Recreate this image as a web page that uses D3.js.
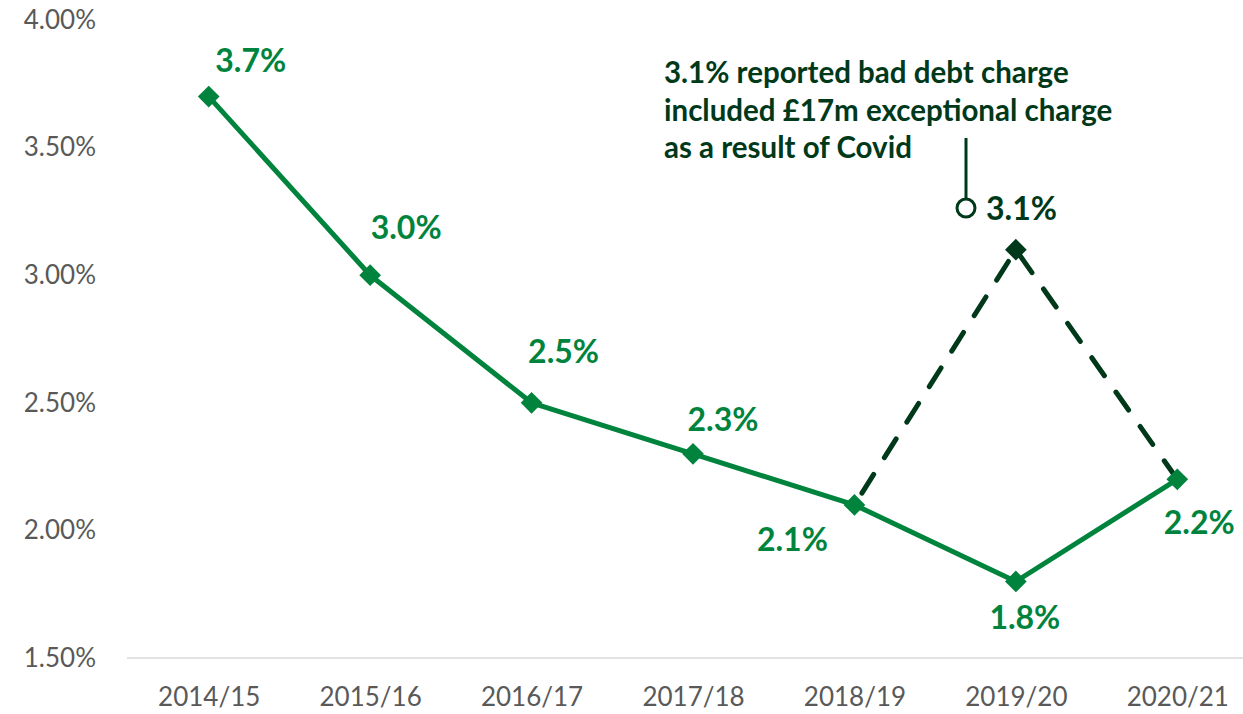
<!DOCTYPE html>
<html>
<head>
<meta charset="utf-8">
<script src="https://cdn.jsdelivr.net/npm/d3@7"></script>
<style>
  body { margin: 0; background: #fff; }
  svg { display: block; font-family: Lato, "Open Sans", sans-serif; }
</style>
</head>
<body>
<div id="chart"></div>
<script>
// data
var years = ["2014/15", "2015/16", "2016/17", "2017/18", "2018/19", "2019/20", "2020/21"];
var underlying = [3.7, 3.0, 2.5, 2.3, 2.1, 1.8, 2.2];
// reported path (incl. Covid exceptional charge) only from 2018/19
var reportedYears = ["2018/19", "2019/20", "2020/21"];
var reported = [2.1, 3.1, 2.2];
var yTicks = [1.5, 2.0, 2.5, 3.0, 3.5, 4.0];
var noteLines = ["3.1% reported bad debt charge", "included £17m exceptional charge", "as a result of Covid"];

// label placement [dx, dy] relative to the point
var labelOffsets = [[42, -25], [36, -36], [32, -40], [30, -23], [-62, 46], [9, 48], [22, 55]];

var W = 1243, H = 714;
var green = "#00843d", dark = "#00391a";

var svg = d3.select("#chart").append("svg")
  .attr("width", W).attr("height", H);

var x = d3.scalePoint()
  .domain(years)
  .range([128, 1258])
  .padding(0.5);

var y = d3.scaleLinear()
  .domain([1.5, 4.0])
  .range([658, 20]);

// baseline
svg.append("line")
  .attr("x1", 127).attr("x2", W)
  .attr("y1", y(1.5)).attr("y2", y(1.5))
  .attr("stroke", "#d9d9d9").attr("stroke-width", 1.5);

// y axis labels
var yAxis = svg.append("g")
  .attr("transform", "translate(96,0)")
  .call(d3.axisLeft(y).tickValues(yTicks).tickSize(0).tickPadding(0)
    .tickFormat(function(d) { return d3.format(".2f")(d) + "%"; }));
yAxis.select(".domain").remove();
yAxis.selectAll("text")
  .attr("fill", "#595959")
  .style("font-size", "26px")
  .style("font-family", "Lato, sans-serif");

// x axis labels
var xAxis = svg.append("g")
  .attr("transform", "translate(0,658)")
  .call(d3.axisBottom(x).tickSize(0).tickPadding(30));
xAxis.select(".domain").remove();
xAxis.selectAll("text")
  .attr("fill", "#595959")
  .style("font-size", "26px")
  .style("font-family", "Lato, sans-serif");

var diamond = d3.symbol().type(d3.symbolDiamond2).size(300);

// reported (dashed) line
var reportedPts = reportedYears.map(function(d, i) { return {year: d, v: reported[i]}; });
svg.append("path")
  .datum(reportedPts)
  .attr("fill", "none")
  .attr("stroke", dark)
  .attr("stroke-width", 5)
  .attr("stroke-dasharray", "22,20")
  .attr("stroke-dashoffset", -14)
  .attr("stroke-linecap", "round")
  .attr("d", d3.line().x(function(d) { return x(d.year); }).y(function(d) { return y(d.v); }));

svg.append("path")
  .attr("d", diamond)
  .attr("transform", "translate(" + x(reportedYears[1]) + "," + y(reported[1]) + ")")
  .attr("fill", dark);

// underlying (solid) line
var pts = years.map(function(d, i) { return {year: d, v: underlying[i], off: labelOffsets[i]}; });
svg.append("path")
  .datum(pts)
  .attr("fill", "none")
  .attr("stroke", green)
  .attr("stroke-width", 5)
  .attr("stroke-linejoin", "round")
  .attr("d", d3.line().x(function(d) { return x(d.year); }).y(function(d) { return y(d.v); }));

svg.selectAll(".pt")
  .data(pts)
  .enter()
  .append("path")
    .attr("class", "pt")
    .attr("d", diamond)
    .attr("transform", function(d) { return "translate(" + x(d.year) + "," + y(d.v) + ")"; })
    .attr("fill", green);

svg.selectAll(".lbl")
  .data(pts)
  .enter()
  .append("text")
    .attr("class", "lbl")
    .attr("x", function(d) { return x(d.year) + d.off[0]; })
    .attr("y", function(d) { return y(d.v) + d.off[1]; })
    .attr("text-anchor", "middle")
    .attr("fill", green)
    .style("font-size", "32px")
    .style("font-weight", "bold")
    .text(function(d) { return d.v.toFixed(1) + "%"; });

// annotation
var ax = 966;
svg.append("line")
  .attr("x1", ax).attr("x2", ax)
  .attr("y1", 138).attr("y2", 199)
  .attr("stroke", dark).attr("stroke-width", 3);
svg.append("circle")
  .attr("cx", ax).attr("cy", 208).attr("r", 9)
  .attr("fill", "#fff").attr("stroke", dark).attr("stroke-width", 3);
svg.append("text")
  .attr("x", 986).attr("y", 220)
  .attr("fill", dark)
  .style("font-size", "32px")
  .style("font-weight", "bold")
  .text(reported[1].toFixed(1) + "%");

svg.append("g").selectAll("text")
  .data(noteLines)
  .enter()
  .append("text")
    .attr("x", 664)
    .attr("y", function(d, i) { return 83 + i * 37.5; })
    .attr("fill", dark)
    .style("font-size", "29.5px")
    .style("font-weight", "bold")
    .text(function(d) { return d; });
</script>
</body>
</html>
